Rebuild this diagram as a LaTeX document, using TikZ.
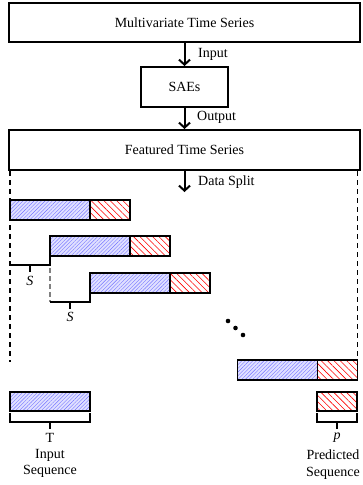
\documentclass[tikz,border=0pt]{standalone}
\usepackage{fontspec}
\setmainfont{Liberation Serif}
\usetikzlibrary{arrows.meta,patterns.meta}
\begin{document}
\begin{tikzpicture}[x=1pt,y=-1pt,
 txt/.style={font=\fontsize{14}{16}\selectfont},
 box/.style={draw,line width=2pt,inner sep=0pt,txt},
 arr/.style={line width=2pt,-{Straight Barb[length=5pt,width=11pt,line width=2pt]}},
 lab/.style={txt,anchor=west,inner sep=0pt},
 inp/.style={fill=blue!12,postaction={pattern={Lines[angle=45,distance=2.6pt,line width=0.4pt]},pattern color=blue!55}},
 prd/.style={fill=white,postaction={pattern={Lines[angle=-45,distance=4.5pt,line width=0.6pt]},pattern color=red}},
 outl/.style={draw,line width=1.8pt},
 brk/.style={line width=1.8pt},
 dsh/.style={line width=1.8pt,dash pattern=on 5pt off 4pt},
]
\useasboundingbox (0,0) rectangle (362,485);
% boxes
\node[box,minimum width=351pt,minimum height=39pt] (mts) at (184.5,22.5) {Multivariate Time Series};
\node[box,minimum width=87pt,minimum height=40pt] (sae) at (184.5,87) {SAEs};
\node[box,minimum width=351pt,minimum height=40pt] (fts) at (184.5,150) {Featured Time Series};
\coordinate (split) at (184.5,192);
\draw[arr] (mts.south) -- (sae.north);
\draw[arr] (sae.south) -- (fts.north);
\draw[arr] (fts.south) -- (split);
\node[lab] (lin) at (198,54) {Input};
\node[lab] (lout) at (197,117) {Output};
\node[lab] (lsplit) at (198,182) {Data Split};
% dashed guides
\coordinate (dl1) at (10,171);
\coordinate (dl2) at (10,362);
\coordinate (dr1) at (357.5,171);
\coordinate (dr2) at (357.5,360);
\draw[dsh] (dl1) -- (dl2);
\draw[dsh] (dr1) -- (dr2);
% bars
\foreach \x/\y in {10/200, 50/236, 90/273, 237.5/360}{
 \path[inp] (\x,\y) rectangle ++(80,20);
 \path[prd] (\x+80,\y) rectangle ++(40,20);
 \draw[outl] (\x,\y) rectangle ++(120,20);
 \draw[outl] (\x+80,\y) -- ++(0,20);
}
% step brackets
\draw[brk] (10,265) -- (50,265) -- (50,256);
\draw[brk] (30,265) -- (30,272);
\node[txt,font=\fontsize{14}{16}\itshape] (s1) at (30,281) {S};
\draw[line width=1.4pt,gray,dash pattern=on 5pt off 3pt] (50,268) -- (50,302);
\draw[brk] (50,302) -- (90,302) -- (90,293);
\draw[brk] (70,302) -- (70,309);
\node[txt,font=\fontsize{14}{16}\itshape] (s2) at (70,317) {S};
% dots
\fill (228,321) circle (2.3pt);
\fill (235.5,328) circle (2.3pt);
\fill (243,335) circle (2.3pt);
% bottom legend bars
\path[inp] (10,392) rectangle (90,411);
\draw[outl] (10,392) rectangle (90,411);
\path[prd] (317,392) rectangle (357,411);
\draw[outl] (317,392) rectangle (357,411);
\draw[brk] (10,413) -- (10,422) -- (90,422) -- (90,413);
\draw[brk] (50,422) -- (50,429);
\draw[brk] (317,413) -- (317,422) -- (357,422) -- (357,413);
\draw[brk] (337,422) -- (337,429);
\node[txt,align=center,anchor=north,inner sep=0pt] (tin) at (50,433) {T\\Input\\Sequence};
\node[txt,font=\fontsize{14}{16}\itshape,anchor=north,inner sep=0pt] (tp) at (337,433) {p};
\node[txt,align=center,anchor=north,inner sep=0pt,font=\fontsize{14}{17}\selectfont] (tpr) at (333,450) {Predicted\\Sequence};
\end{tikzpicture}
\end{document}
